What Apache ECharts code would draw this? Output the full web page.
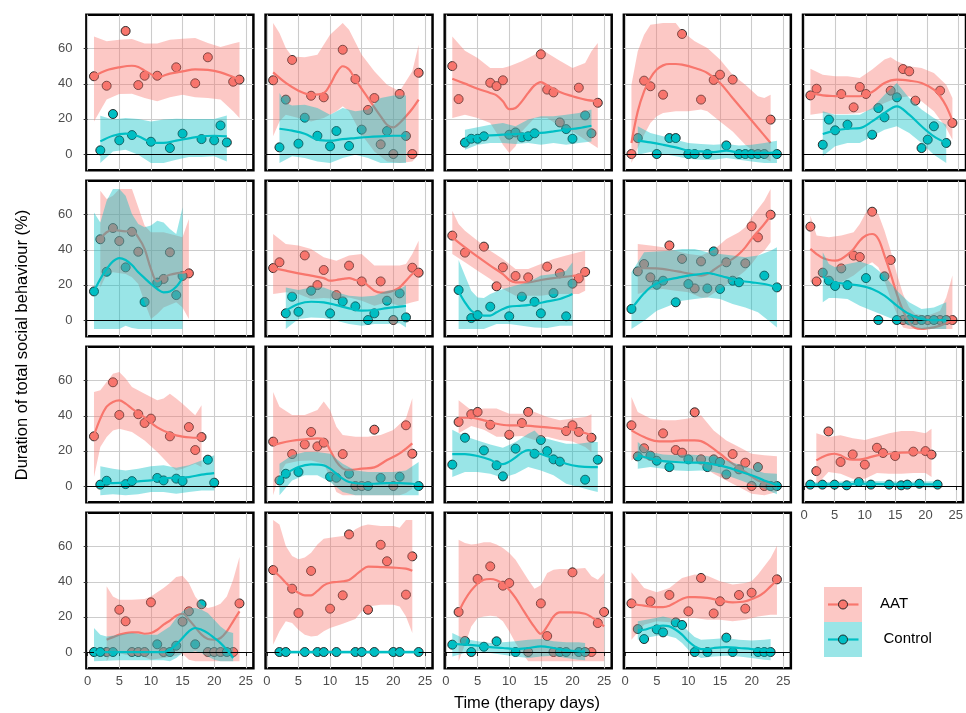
<!DOCTYPE html>
<html>
<head>
<meta charset="utf-8">
<script src="https://cdn.jsdelivr.net/npm/echarts@6/dist/echarts.min.js"></script>
<style>
  html, body { margin: 0; padding: 0; background: #fff; }
  #chart { width: 966px; height: 713px; }
</style>
</head>
<body>
<div id="chart"></div>
<script>
// tick labels shared by every facet
var xTicks = [0, 5, 10, 15, 20, 25];
var yTicks = [0, 20, 40, 60];
var groups = ['AAT', 'Control'];

// one entry per facet (row by row), each a list of [day, %]
var aatPoints = [
  [[1,44.3],[3,38.9],[6,70.1],[8,39.3],[9,44.6],[11,44.6],[14,49.4],[17,40.3],[19,55.1],[23,41.2],[24,42.4]],
  [[1,42],[4,53.6],[7,33.2],[9,32.3],[12,59.4],[14,42.7],[16,25.1],[17,31.9],[18,5.5],[20,0],[21,34.2],[23,0],[24,46.3]],
  [[1,50.1],[2,31.3],[7,40.6],[8,38.7],[9,42],[15,56.8],[16,36.7],[17,35.1],[18,18],[21,37.8],[24,29.2]],
  [[1,0],[3,41.8],[4,38.6],[6,33.8],[9,68.4],[12,31],[14,42.2],[15,45.2],[17,42.4],[23,19.6]],
  [[1,33.4],[2,37.2],[6,34.2],[8,26.6],[9,38.2],[10,34.2],[14,36.1],[16,48.4],[17,47.1],[18,30.4],[22,36.1],[24,17.7]],
  [[2,46],[4,52.4],[5,45],[7,50.3],[8,38.9],[12,23.4],[13,38.6],[16,26.6]],
  [[1,29.6],[2,32.9],[6,36.8],[8,19.9],[9,28.5],[11,14.2],[13,31],[15,22],[18,22],[20,0],[23,29.8],[24,27]],
  [[1,48.1],[3,38.4],[6,41.8],[8,19.2],[9,30],[11,25.1],[13,24.3],[16,30.4],[18,26.6],[21,23.7],[22,27.4]],
  [[2,27.7],[3,31.9],[4,24.3],[7,42.5],[9,34.8],[11,18],[12,33.4],[16,32.9],[19,32.3],[20,53.4],[21,47.1],[23,60]],
  [[1,53.2],[2,22],[6,29.4],[8,36.7],[9,35.9],[11,61.7],[14,34.2],[16,0],[18,0],[20,0],[22,0],[24,0]],
  [[1,28.3],[4,59.1],[5,40.5],[8,40.9],[9,35.9],[10,38.4],[13,28.3],[16,33.6],[17,20.5],[18,27.9]],
  [[1,25.3],[4,18.2],[6,23.7],[7,30.8],[8,22.6],[9,24.7],[12,18.2],[14,0],[15,0],[17,32.1],[20,0],[22,34.6],[23,18.4]],
  [[2,36.5],[4,40.9],[5,42.2],[7,34.9],[10,29.2],[12,35.9],[13,42.2],[19,31.3],[20,34.6],[21,30.8],[23,27.5]],
  [[1,34.6],[3,21.5],[6,30],[8,20.5],[9,19],[11,42],[12,15.2],[17,18.2],[18,9.5],[19,13.3],[20,0],[22,0]],
  [[2,8.5],[4,31.1],[6,13.7],[8,18],[10,12.2],[12,21.8],[13,18.8],[15,17.1],[18,19.6],[20,19.9],[21,17.9]],
  [[3,0],[5,24.1],[6,17.5],[7,0],[8,0],[9,0],[10,28.3],[12,0],[15,17.3],[16,23.2],[19,0],[20,0],[21,0],[23,0],[24,27.7]],
  [[1,46.7],[4,36.1],[5,22.2],[7,46.2],[10,24.7],[12,32.3],[13,67],[16,24.1],[18,61.1],[19,51.7],[22,32.7],[23,54.5]],
  [[2,22.8],[5,41.6],[7,48.8],[9,37.8],[10,39.3],[13,0],[15,27.7],[16,9.1],[17,0],[20,45.4],[23,0],[24,16.5],[25,22.8]],
  [[1,27.7],[4,28.9],[7,32.5],[10,23.2],[12,42.2],[14,22],[15,28.9],[18,32.5],[19,24.7],[20,33.8],[24,41.4]]
];

var controlPoints = [
  [[2,2.1],[4,22.8],[5,7.8],[7,10.8],[10,7],[13,3.4],[15,11.6],[18,8.5],[20,7.8],[21,16.3],[22,6.6]],
  [[2,3.8],[3,31],[5,5.9],[6,20.7],[8,10.4],[10,4.4],[11,13.1],[13,4.6],[15,13.9],[19,13.1],[22,10.3]],
  [[3,6.5],[4,8.7],[5,8.7],[6,10.1],[10,11],[11,12.3],[12,9.5],[13,10.1],[14,11.8],[19,14.2],[20,8.7],[22,22],[23,11.8]],
  [[2,9.1],[5,0],[7,9.1],[8,9.1],[10,0],[11,0],[13,0],[16,4.9],[18,0],[19,0],[20,0],[21,0],[22,0],[24,0]],
  [[3,5.3],[4,19.6],[5,13.5],[7,16.7],[11,11],[12,26.2],[13,20.9],[15,32.3],[19,3.4],[20,8.2],[21,15.8],[23,6.3]],
  [[1,16.3],[3,27.5],[6,30],[9,10.3],[11,21.3],[14,14.2],[15,25.1]],
  [[3,3.8],[4,13.3],[5,4.7],[7,16.7],[10,3.8],[12,10.6],[14,7.8],[16,0],[17,3.8],[19,11],[21,15.2],[22,1.5]],
  [[2,17.1],[4,1.1],[5,2.8],[7,7.6],[10,2.1],[12,13.3],[14,10.4],[15,3.8],[17,15.4],[19,2.1],[20,20.7]],
  [[1,6.3],[5,20.1],[6,22.4],[8,10.1],[10,20.5],[13,18],[14,39.1],[15,17.7],[17,22.4],[18,21.5],[22,25.3],[24,18.6]],
  [[3,27],[4,22.4],[5,19.4],[7,19.9],[10,23.9],[12,0],[13,24.9],[15,0],[17,0],[19,0],[21,0],[23,0]],
  [[2,0.8],[3,3],[6,1.1],[7,2.8],[11,4.6],[12,3.2],[14,4.2],[15,2.8],[19,15],[20,1.9]],
  [[2,3.2],[3,7],[5,8],[10,5.3],[11,4.7],[13,7],[16,0],[18,4.6],[21,5.3],[24,0]],
  [[1,12.2],[3,27.5],[6,20.3],[8,11.8],[9,5.5],[11,21.3],[14,18.4],[15,26.2],[16,19.9],[17,15.2],[18,13.9],[22,3.6],[24,15]],
  [[2,16.9],[4,17.3],[5,14.4],[7,10.8],[10,15.2],[13,10.8],[14,15.2],[15,13.7],[16,6.6],[21,10.8],[23,0],[24,0]],
  [[1,0.8],[3,0.8],[5,0.8],[7,0.4],[9,2.3],[11,0.8],[14,0.8],[16,0.4],[17,0.8],[19,1.3],[22,0.8]],
  [[1,0],[2,0],[4,0],[11,4.4],[13,0],[14,3.6],[17,4.4],[18,27.2],[22,0]],
  [[2,0],[3,0],[6,0],[8,0],[9,0],[11,0],[14,0],[15,0],[17,0],[20,0],[21,0],[24,0]],
  [[1,4.2],[3,6.3],[4,0],[6,3],[8,6.1],[11,0],[18,0],[19,0],[21,0],[22,0]],
  [[2,13.1],[3,7.4],[5,12.9],[6,11.2],[8,16.9],[9,15.4],[11,0],[13,0],[16,8.2],[17,0],[21,0],[22,0],[23,0]]
];

// smoothed trend
var aatFit = [
  [[1,44.3],[3,47.7],[5,49.4],[7,50.3],[8,49.6],[9,47.5],[10,45.5],[11,43.6],[12,44.6],[13,45.8],[15,47.1],[17,48.2],[19,47.9],[21,46.5],[23,43.9],[24,42.5]],
  [[1,46.5],[3,40.5],[5,36.1],[7,33.8],[9,34.8],[10,39.5],[11,46.2],[12,50],[13,48.1],[14,42.4],[16,31.9],[18,21.5],[19,16.7],[20,15.2],[21,17.7],[22,21.5],[23,25.8],[24,31]],
  [[1,42.9],[3,40.1],[5,37.2],[7,34.8],[8,33.4],[9,30],[10,25.6],[11,26.2],[12,30],[13,34.8],[14,39.1],[15,41],[16,39.1],[18,35.3],[20,32.9],[22,31],[24,30]],
  [[1,6.3],[2,24.3],[3,35.7],[4,43.3],[5,48.1],[6,50.5],[7,51.3],[8,51.3],[9,50.9],[11,49],[13,46.2],[15,40.5],[17,31.9],[19,23.4],[21,14.8],[23,6.3]],
  [[1,34.8],[3,33.4],[5,33],[7,32.9],[9,32.9],[11,35.3],[13,40.5],[15,42.4],[17,41.8],[19,40.5],[21,36.7],[22,32.9],[23,27.2],[24,19]],
  [[2,46.2],[3,50],[4,51.3],[6,50.5],[7,50.9],[8,47.1],[9,40.5],[10,29.1],[11,22],[12,24.3],[13,25.8],[14,26.6],[15,27],[16,27.7]],
  [[1,29.6],[3,28.1],[5,26.6],[7,25.3],[9,23.9],[10,22.4],[11,22.8],[12,23.4],[13,23.9],[14,22.8],[15,22.4],[16,19.6],[17,16.7],[18,15.6],[19,15.8],[20,16.7],[21,18.6],[22,22.4],[23,26.2],[24,28.5]],
  [[1,47.1],[3,41.4],[5,36.1],[7,31],[9,26.2],[10,22.8],[11,21.5],[13,21.5],[15,22.8],[17,23.9],[19,24.7],[21,25.6],[22,26.6]],
  [[2,29.1],[3,29.6],[5,29.4],[7,28.5],[9,27.2],[11,25.8],[12,25.3],[13,26.2],[14,28.5],[15,31],[16,32.9],[17,34.8],[18,37.6],[19,41.4],[20,46.2],[21,50.5],[22,54.7],[23,59.4]],
  [[1,40.5],[2,37.6],[3,35.3],[4,34.2],[5,33.8],[6,34.8],[7,37.2],[8,40.5],[9,45.2],[10,48.1],[11,49],[12,46.2],[13,36.7],[14,26.2],[15,14.8],[16,5.3],[17,-1.3],[18,-4.6],[19,-5.1],[20,-4.7],[21,-4.2],[22,-3.2],[23,-1.9],[24,0]],
  [[1,28.9],[2,38.4],[3,45.2],[4,47.9],[5,48.8],[6,46.9],[7,44.1],[9,39.1],[11,33.4],[13,30],[15,28.1],[17,27.5],[18,27.2]],
  [[1,23.2],[2,24.3],[4,25.8],[6,26.6],[8,27.2],[9,26.6],[10,20.5],[11,13.9],[12,10.1],[13,9.1],[15,9.9],[17,10.6],[19,14.8],[21,18.6],[23,24.3]],
  [[2,38.9],[4,38.9],[6,37.4],[8,35.5],[10,34.6],[12,34.6],[14,34],[16,33.4],[18,32.7],[20,32.1],[22,30.2],[23,28.9]],
  [[1,31.7],[3,27.9],[5,25.6],[7,25.4],[9,26],[11,26],[12,25.6],[13,23.7],[15,18.4],[17,12.7],[19,8],[21,3.2],[23,0.9],[24,0]],
  [[2,14.6],[3,16.5],[4,17.9],[5,18.4],[6,17.5],[7,15.6],[8,15],[9,15],[10,15.6],[12,17.5],[14,18.4],[16,19],[18,19.2],[20,19],[21,18.8]],
  [[3,7],[4,8.5],[5,9.9],[6,10.8],[7,11.2],[8,11.2],[9,10.4],[10,10.8],[11,12.7],[12,15.6],[13,17.9],[14,20.7],[15,21.8],[16,18.4],[17,14.2],[18,9.9],[19,7.4],[20,7],[21,8],[22,11.8],[23,17.5],[24,23.2]],
  [[1,46.2],[2,43.3],[3,39.5],[4,36.1],[5,33.8],[6,32.3],[7,32.3],[8,34.8],[9,38],[10,39.5],[11,39.9],[12,40.3],[13,41.1],[14,43.7],[15,46.7],[16,48.6],[18,48.4],[20,48.1],[22,47.5],[23,46.3]],
  [[2,22.8],[3,29.8],[4,35.1],[5,38.9],[6,41.2],[7,41.6],[8,40.9],[9,38.9],[10,35.5],[11,30.8],[12,25.1],[13,19.4],[14,14.2],[15,10.4],[16,14.6],[17,20.3],[18,22.6],[20,22.6],[22,21.8],[23,19.9],[24,17.5],[25,14.6]],
  [[1,27.5],[3,26.4],[5,25.6],[6,25.6],[7,26.4],[8,28.3],[9,30.2],[10,31.3],[11,31.3],[13,30.8],[15,29.4],[17,28.3],[19,28.9],[21,31.7],[22,34],[23,37.4],[24,40.9]]
];

var controlFit = [
  [[2,7.2],[4,10.4],[6,11.6],[8,10.1],[10,6.8],[12,6.3],[14,7.6],[16,8.9],[18,10.1],[20,10.4],[22,10.1]],
  [[2,14.4],[4,13.3],[6,11.6],[8,8.2],[10,7.6],[12,8.5],[14,9.1],[16,9.7],[18,10.1],[20,10.4],[22,10.4]],
  [[3,9.1],[5,10.1],[7,10.6],[9,11],[11,11.4],[13,11.6],[15,12],[17,12.9],[19,13.9],[21,14.8],[23,16.1]],
  [[2,7.6],[4,6.6],[6,5.3],[8,3.8],[10,1.9],[12,1.5],[14,1.1],[16,1.9],[18,0.8],[20,0.6],[22,0.6],[24,0.9]],
  [[3,11.4],[5,13.3],[7,14.4],[9,14.8],[11,18.6],[13,23.4],[15,27.2],[17,22.4],[19,15.8],[21,10.1],[23,6.3]],
  [[1,16.3],[2,23.4],[3,29.1],[4,33.4],[5,35.3],[6,34.2],[7,31.3],[8,27.2],[9,23.9],[10,20.5],[11,17.7],[12,15.8],[13,16.3],[14,19],[15,23.9]],
  [[3,5.3],[5,9.1],[7,10.4],[9,10.1],[11,8.5],[13,6.6],[15,5.3],[17,5.7],[19,6.8],[21,7.6],[22,8]],
  [[2,16.3],[3,10.1],[4,5.3],[5,3.4],[6,2.5],[7,2.5],[8,4.4],[9,6.3],[10,7.6],[12,8.2],[14,9.1],[16,10.6],[18,12],[20,14.8]],
  [[1,6.3],[2,11],[3,15.2],[4,18.6],[6,22.4],[8,23.9],[10,25.3],[12,26.2],[13,26.8],[14,26.2],[16,24.3],[18,22.4],[20,21.5],[22,20.5],[24,18.6]],
  [[3,24.7],[4,22.8],[5,21.5],[7,20.5],[9,19.6],[11,17.7],[13,13.9],[15,8.2],[17,3.4],[19,0.6],[21,0],[23,0]],
  [[2,1.7],[4,1.7],[6,1.9],[8,2.7],[10,3.2],[12,4.2],[14,4.7],[16,5.1],[18,6.5],[20,7.4]],
  [[2,4.2],[3,7],[5,10.8],[7,12.3],[9,11.8],[10,9.9],[11,7],[12,4.2],[13,2.3],[15,1.3],[17,1.3],[19,1.7],[21,1.7],[23,1.3],[24,0.9]],
  [[1,18.2],[3,18.2],[5,17.1],[7,15],[8,13.1],[9,12.5],[10,13.9],[11,16.3],[12,19],[13,20.5],[14,19.6],[15,18.2],[17,15.8],[19,12.7],[21,11.2],[23,10.8],[24,10.8]],
  [[2,17.5],[4,15.6],[6,14.2],[8,13.7],[10,13.3],[12,13.3],[14,12.3],[16,10.8],[18,8.5],[20,6.1],[22,3.2],[24,0.4]],
  [[1,0.8],[5,0.9],[9,1.3],[13,1.1],[17,0.9],[22,0.9]],
  [[1,0],[3,0],[5,0],[7,0],[9,0],[11,0],[12,0],[13,1.3],[14,4.2],[15,8],[16,11.8],[17,13.7],[18,12.7],[19,10.8],[20,8],[21,5.1],[22,1.3],[23,-3.4]],
  [[2,0],[8,0],[14,0],[20,0],[24,0]],
  [[1,4.7],[3,4.2],[5,3.6],[7,2.8],[9,2.3],[11,1.7],[13,2.3],[15,3.2],[17,2.3],[19,0.9],[21,0.4],[22,0.2]],
  [[2,12.3],[3,12.7],[4,13.7],[5,14.6],[6,15],[7,14.6],[8,12.7],[9,9.9],[10,6.1],[11,3.2],[12,1.7],[13,1.7],[14,2.3],[16,2.8],[18,2.3],[20,1.7],[22,1.3],[23,0.9]]
];

// confidence band edges
var aatUpper = [
  [[1,67],[3,64.2],[5,65.1],[7,65.5],[9,62.9],[11,62.9],[13,65.1],[15,65.7],[17,66.1],[19,63.2],[21,61],[23,62.9],[24,63.8]],
  [[1,74.6],[2,69],[3,60.4],[4,55.6],[6,55.1],[8,56.6],[10,68],[12,74.6],[13,70.8],[15,56.6],[17,47.1],[19,39.5],[21,35.7],[23,47.1],[24,62.3]],
  [[1,67],[3,58.9],[5,54.7],[7,49],[9,49],[10,50],[12,52.8],[14,56.6],[15,60.4],[16,57.5],[18,53.2],[20,49],[22,51.9],[23,58.5],[24,63.2]],
  [[1,39.5],[2,58.5],[3,68],[4,73.7],[6,74.6],[8,74.6],[9,69.9],[11,64.2],[13,60.4],[15,53.8],[17,45.2],[19,39.5],[21,32.9],[22,31.9],[23,33.8]],
  [[1,48.6],[3,45.2],[5,44.3],[7,44.3],[9,43.3],[11,48.1],[13,53.8],[14,55.1],[15,52.8],[17,50],[19,49],[21,46.2],[23,39.5],[24,31.9]],
  [[2,73.7],[3,69],[4,70.8],[5,74.6],[6,74.6],[7,74.6],[8,64.2],[9,53.8],[10,50],[12,50],[14,48.1],[15,47.1],[16,57.5]],
  [[1,49],[3,43.3],[5,42.4],[7,40.5],[9,35.7],[11,33.8],[13,36.7],[15,37.6],[17,31],[19,31],[21,31],[22,31.9],[23,37.6],[24,45.2]],
  [[1,62.3],[2,54.7],[3,50.9],[5,45.2],[7,39.5],[9,34.8],[11,29.1],[13,29.1],[15,31.9],[17,34.8],[19,36.7],[21,38.6],[22,39.5]],
  [[2,43.3],[4,42.4],[6,41.4],[8,39.5],[10,37.6],[12,36.7],[14,39.9],[16,46.2],[18,50],[19,52.8],[20,58.5],[21,63.2],[22,68],[23,74.6]],
  [[1,59.4],[2,48.1],[4,47.1],[6,48.1],[8,50],[9,54.7],[10,61.3],[11,63.2],[12,60.4],[13,50.9],[14,39.5],[15,26.2],[16,14.8],[17,7.2],[18,3.4],[20,2.5],[22,5.3],[23,12.9],[24,25.3]],
  [[1,53.6],[2,54.5],[3,59.3],[4,64],[5,65],[6,61.2],[7,56.4],[9,52.6],[10,50.7],[11,48.8],[12,49.8],[13,52.6],[14,49.8],[15,46.9],[17,40.3],[18,46]],
  [[1,53.6],[2,45.2],[4,40.5],[6,40.5],[8,43.3],[9,48.1],[10,43.3],[11,33.8],[12,29.1],[14,28.1],[16,28.1],[18,29.1],[20,31.9],[22,38.6],[23,50]],
  [[2,48.8],[4,43.1],[6,44.1],[8,44.1],[10,41.2],[12,41.2],[14,42.2],[16,39.3],[18,37.4],[20,38.4],[22,39.3],[23,40.9]],
  [[1,50.7],[2,42.2],[4,38.4],[6,37.4],[8,37.4],[10,38.4],[12,40.3],[14,31.7],[16,26],[18,22.2],[20,18.4],[22,17.5],[24,17]],
  [[2,30],[4,27.9],[6,28.9],[8,27.2],[10,26.2],[12,28.1],[14,30],[16,31.3],[18,31.3],[20,30],[21,32.7]],
  [[3,37.4],[4,31.7],[5,29.8],[7,29.8],[9,30.2],[10,31.7],[12,36.5],[13,39.3],[14,42.7],[15,43.5],[16,39.3],[17,31.7],[18,27],[19,25.1],[20,26],[21,27.5],[22,31.7],[23,41.2],[24,54.1]],
  [[1,75.2],[2,72.7],[3,60.4],[4,54.7],[5,52.8],[6,53.8],[7,56.6],[8,61.3],[9,64.6],[10,65.1],[12,66.1],[13,67],[14,69.9],[15,71.8],[16,72.7],[18,71.8],[20,71.8],[21,70.8],[22,75.2],[23,75.2]],
  [[2,64],[3,62.1],[4,61.2],[5,61.7],[6,62.5],[7,62.5],[8,61.2],[9,59.3],[10,56.4],[11,52.6],[12,46.9],[13,41.2],[14,36],[15,38],[16,45],[17,46.9],[18,47.3],[20,47.3],[22,47.9],[23,43.1],[24,41.2],[25,45]],
  [[1,45.4],[3,36.5],[5,34],[7,36.5],[9,42.2],[11,44.1],[13,43.5],[15,40.3],[17,38.4],[19,39.3],[20,40.3],[21,44.1],[22,48.8],[23,53.6],[24,60.6]]
];

var aatLower = [
  [[1,18.6],[3,31],[5,34.2],[7,34.4],[9,31.9],[11,30],[13,32.3],[15,33.8],[17,32.3],[19,31.9],[21,31],[23,24.3],[24,20.5]],
  [[1,10.1],[2,18.6],[3,22.4],[5,20.5],[7,18.6],[9,20.5],[11,24.3],[12,27.2],[13,24.3],[15,11],[17,1.5],[19,-4.2],[21,-5.1],[23,-4.2],[24,-0.4]],
  [[1,20.5],[3,22.4],[5,20.5],[7,17.7],[8,12],[9,5.3],[10,0.6],[11,4.4],[12,12.9],[14,20.5],[16,20.5],[18,15.8],[20,12.9],[22,8.2],[24,3.4]],
  [[1,-5.1],[2,3.4],[3,11],[4,17.7],[5,21.5],[6,23.4],[8,24.3],[10,24.3],[12,25.3],[13,24.3],[15,18.6],[17,12.9],[19,5.3],[21,-0.4],[23,-4.2]],
  [[1,22.4],[3,23.4],[5,22.8],[7,22.8],[9,23.4],[11,25.3],[13,29.1],[15,31.9],[17,32.9],[19,30],[21,24.3],[23,14.8],[24,8.2]],
  [[2,18.6],[3,26.2],[4,27.2],[6,26.2],[7,24.3],[8,20.5],[9,10.1],[10,0.6],[11,3.4],[12,7.2],[14,10.1],[15,7.2],[16,0.6]],
  [[1,14.8],[3,15.8],[5,14.8],[7,12],[9,12.5],[11,12],[13,12.9],[15,11],[17,8.2],[18,9.1],[19,10.1],[21,8.2],[23,10.1],[24,11]],
  [[1,37.6],[3,32.9],[5,28.1],[7,23.4],[9,17.7],[11,13.9],[13,13.9],[15,13.9],[17,14.8],[19,14.8],[21,14.8],[22,16.7]],
  [[2,14.8],[4,17.1],[6,17.7],[8,16.7],[10,15.8],[12,12.9],[13,12.9],[15,17.7],[17,22.4],[19,28.1],[20,31.9],[21,36.7],[22,39.5],[23,44.3]],
  [[1,21.5],[2,24.3],[4,22.8],[6,21.5],[8,25.3],[10,31],[11,32.9],[12,30],[13,22.4],[14,12],[15,3.4],[16,-4.2],[17,-5.1],[24,-5.1]],
  [[1,5.1],[2,22.2],[3,27.9],[4,31.7],[5,32.7],[7,30.8],[9,26],[11,19.4],[13,11.8],[14,8.9],[15,9.9],[17,12.7],[18,10.8]],
  [[1,-5.3],[2,7],[3,12.7],[5,14.2],[7,14.6],[9,12.7],[10,5.1],[11,-3.4],[12,-5.3],[21,-5.3],[22,-4],[23,-1.5]],
  [[2,30],[4,34.2],[6,32.1],[8,28.1],[10,28.1],[12,28.5],[14,26.2],[16,28.1],[18,26.2],[20,25.3],[22,22.2],[23,19.4]],
  [[1,14.6],[2,16.9],[4,14.2],[6,13.7],[8,14.2],[10,14.2],[12,11.8],[14,7],[16,3.2],[18,-0.6],[20,-4.4],[22,-5.3],[24,-3.4]],
  [[2,0.4],[4,8],[6,7],[8,4.2],[10,4.2],[12,7.4],[14,7],[16,7],[18,7.4],[20,7.4],[21,5.1]],
  [[3,-5.3],[4,0.4],[5,-0.6],[6,-1.5],[8,-1.5],[10,-4.4],[12,-3.4],[14,-2.1],[15,-1],[16,-4.4],[17,-5.3],[24,-5.3]],
  [[1,4.2],[2,11.8],[3,17.5],[4,16.5],[5,12.7],[6,9.9],[7,8.9],[8,9.3],[9,11.8],[10,13.7],[12,16.1],[14,18.8],[15,23.2],[16,26],[18,27],[20,27],[21,26],[22,20.3],[23,10.8]],
  [[2,-5.3],[3,4.2],[4,14.6],[5,19.4],[6,20.3],[7,20.7],[8,20.3],[9,17.5],[10,11.8],[11,5.1],[12,-0.6],[13,-5.3],[25,-5.3]],
  [[1,7],[3,15.6],[5,17.5],[7,16.9],[9,19.4],[11,19.4],[13,18.4],[15,18.4],[17,17.5],[19,18.4],[21,20.3],[23,21.3],[24,21.3]]
];

var controlUpper = [
  [[2,21.8],[4,19.6],[6,20.5],[8,19.9],[10,18.6],[12,19.6],[14,20.1],[16,19.9],[18,19.9],[20,19.9],[22,22]],
  [[2,34.8],[3,29.1],[4,27.7],[6,28.1],[8,26.2],[10,22.4],[12,26.2],[14,24.3],[16,25.3],[18,31.9],[20,33.4],[22,33.4]],
  [[3,13.9],[5,15.2],[7,16.7],[9,17.7],[11,15.8],[13,19.6],[15,21.5],[17,21.5],[19,22.4],[21,23.4],[23,25.3]],
  [[2,15.8],[4,12],[6,10.1],[8,8.2],[10,6.3],[12,5.7],[14,5.3],[16,5.7],[18,4.9],[20,5.3],[22,6.3],[24,7.6]],
  [[3,24.3],[5,22.4],[7,22.4],[9,22.4],[11,26.2],[13,33.8],[15,40.5],[17,31.9],[19,25.3],[21,20.5],[23,16.7]],
  [[1,61.3],[2,55.6],[3,68],[4,74.6],[5,74.6],[6,70.8],[7,60.4],[8,54.7],[9,52.8],[10,53.8],[11,56.6],[12,55.6],[13,51.9],[14,49],[15,64.2]],
  [[3,18.6],[5,17.1],[7,18.6],[9,18.6],[11,15.8],[13,13.9],[15,13.3],[17,13.9],[19,16.7],[21,17.7],[22,19.6]],
  [[2,34.2],[3,25.3],[4,16.7],[5,12.9],[6,12.5],[7,14.8],[9,17.7],[11,19.6],[13,21.5],[15,25.3],[17,26.2],[19,28.1],[20,32.9]],
  [[1,27.2],[3,38.6],[5,39.1],[7,39.5],[9,40.5],[11,40.5],[13,38.6],[15,37.6],[17,36.7],[19,35.7],[21,36.7],[23,39.5],[24,41.4]],
  [[3,38.6],[4,31.9],[5,30],[7,31.9],[9,33.4],[11,31],[13,25.3],[15,16.7],[17,10.1],[19,6.3],[21,7.2],[23,10.1]],
  [[2,11.2],[4,9.9],[6,8.9],[8,9.9],[10,11.2],[12,11.8],[14,10.4],[16,11.8],[18,14.6],[20,17.5]],
  [[2,12.7],[4,17.5],[6,19.4],[8,19.4],[10,18.4],[12,12.7],[14,8.9],[16,8],[18,8],[20,8],[22,8.9],[24,13.7]],
  [[1,32.1],[3,28.3],[5,26],[7,23.7],[9,21.8],[11,25.1],[13,29.8],[14,31.7],[15,27.9],[17,26],[19,24.1],[21,24.1],[23,25.1],[24,25.1]],
  [[2,25.1],[4,19.4],[6,18],[8,17.5],[10,18],[12,17.5],[14,16.5],[16,14.6],[18,12.3],[20,9.9],[22,7.4],[24,7]],
  [[1,2],[5,2.5],[9,3],[13,2.7],[17,2.5],[22,2.7]],
  [[1,13.7],[2,9.9],[3,8.9],[5,9.9],[7,10.8],[9,9.9],[11,9.9],[13,14.6],[14,19.4],[15,23.2],[16,25.1],[17,25.1],[18,24.1],[19,22.2],[20,18.4],[21,14.6],[22,11.8],[23,10.8]],
  [[2,0.8],[24,0.8]],
  [[1,10.8],[3,7.4],[5,6.1],[7,5.1],[9,5.5],[11,6.1],[13,7],[15,7.4],[17,6.1],[19,5.5],[21,5.5],[22,5.1]],
  [[2,17.5],[4,18.8],[6,20.3],[7,19.4],[8,18.4],[9,15.6],[10,11.8],[11,8.5],[12,7],[14,7.4],[16,8],[18,7],[20,6.6],[22,7],[23,7.4]]
];

var controlLower = [
  [[2,-5.1],[4,1.5],[6,2.5],[8,-0.4],[10,-5.1],[12,-5.1],[14,-3.2],[16,-1.7],[18,-1.7],[20,-1.3],[22,-4.2]],
  [[2,-5.1],[4,-1.3],[6,-2.3],[8,-4.2],[10,-5.1],[12,-2.3],[14,-0.4],[16,-2.3],[18,-5.1],[20,-5.1],[22,-5.1]],
  [[3,2.5],[5,5.3],[7,6.3],[9,6.3],[11,5.7],[13,6.3],[15,5.3],[17,6.3],[19,5.3],[21,6.3],[23,7.2]],
  [[2,-0.4],[4,1.1],[6,0],[8,-1.3],[10,-2.7],[12,-3.2],[14,-3.2],[16,-2.3],[18,-3.2],[20,-4.2],[22,-5.1],[24,-5.1]],
  [[3,-1.3],[5,4.4],[7,6.3],[9,6.3],[11,10.1],[13,13.9],[15,15.8],[17,12],[19,6.3],[21,-0.4],[23,-5.1]],
  [[1,-5.1],[5,-5.1],[6,-3.2],[7,-4.6],[8,-5.1],[15,-5.1]],
  [[3,-5.1],[5,0.6],[7,1.5],[9,1.1],[11,-0.4],[13,-2.3],[15,-3.2],[17,-2.3],[19,-2.3],[21,-1.9],[22,-4.2]],
  [[2,-5.1],[6,-5.1],[8,-2.3],[10,-2.3],[12,-3.2],[14,-4.2],[16,-4.6],[18,-3.2],[20,-3.2]],
  [[1,-5.1],[3,-0.4],[5,5.3],[7,8.2],[9,11],[11,12],[13,12.9],[15,12],[17,9.1],[19,7.2],[21,4.4],[23,-1.3],[24,-4.2]],
  [[3,10.1],[4,12.5],[5,12.5],[7,12],[9,8.2],[11,5.3],[13,2.5],[15,-0.4],[17,-3.2],[19,-5.1],[23,-5.1]],
  [[2,-5.3],[4,-4.7],[6,-5.3],[8,-4.7],[10,-3.4],[12,-3.4],[14,-4.4],[16,-3.4],[18,-2.5],[20,-2.5]],
  [[2,-5.3],[4,3.2],[6,6.1],[8,6.1],[10,2.3],[12,-3.4],[14,-5.3],[24,-5.3]],
  [[1,5.1],[3,8],[5,8],[7,7],[9,4.7],[11,7],[13,10.8],[15,8.9],[17,6.1],[19,1.3],[21,-0.6],[23,-2.5],[24,-3.4]],
  [[2,9.9],[4,10.8],[6,9.9],[8,8.9],[10,8.5],[12,8.9],[14,8],[16,6.1],[18,3.6],[20,0.9],[22,-1.5],[24,-4.7]],
  [[1,-1],[5,-0.6],[9,-0.3],[13,-0.5],[17,-0.6],[22,-1]],
  [[1,-5.3],[5,-4.7],[9,-4.7],[12,-4.7],[13,-5.3],[14,-3.4],[15,-0.6],[16,-0.6],[17,0.4],[18,-0.6],[19,-2.5],[20,-4.4],[21,-5.3],[23,-5.3]],
  [[2,-0.8],[24,-0.8]],
  [[1,-2.5],[3,-0.6],[5,0.4],[7,-0.6],[9,-1.5],[11,-2.5],[13,-3.4],[15,-2.5],[17,-2.1],[19,-3.4],[21,-4.4],[22,-4.7]],
  [[2,7],[4,8.5],[6,9.9],[8,8],[9,5.1],[10,1.3],[11,-1.5],[12,-3.4],[14,-2.5],[16,-2.1],[18,-2.5],[20,-3.4],[22,-4.4],[23,-4.7]]
];

(function () {
  var AAT = '#F8766D', CTL = '#00BFC4';
  var font = '"Liberation Sans", Arial, Helvetica, sans-serif';
  var chart = echarts.init(document.getElementById('chart'), null, { renderer: 'canvas' });

  var grids = [], xAxes = [], yAxes = [], series = [];

  // layer order as in the original: points, AAT ribbon + line, Control ribbon + line
  function scatter(i, pts, color) {
    return {
      type: 'scatter', xAxisIndex: i, yAxisIndex: i, data: pts, silent: true, z: 1,
      symbol: 'circle', symbolSize: 9,
      itemStyle: { color: color, borderColor: '#1a1a1a', borderWidth: 0.9, opacity: 1 }
    };
  }

  function band(i, upper, lower, color, z) {
    var poly = upper.concat(lower.slice().reverse());
    return {
      type: 'custom', xAxisIndex: i, yAxisIndex: i, data: poly, silent: true, z: z,
      renderItem: function (params, api) {
        if (params.dataIndex !== 0) return null;
        return {
          type: 'polygon',
          shape: { points: poly.map(function (p) { return api.coord(p); }) },
          style: { fill: color, opacity: 0.4 }
        };
      }
    };
  }

  function fit(i, pts, color, z, zero) {
    var s = {
      type: 'line', xAxisIndex: i, yAxisIndex: i, data: pts, silent: true, z: z,
      smooth: 0.35, showSymbol: false,
      lineStyle: { color: color, width: 2.2 }
    };
    if (zero) {
      s.markLine = {
        silent: true, symbol: ['none', 'none'], label: { show: false },
        lineStyle: { color: '#000', width: 1.2, type: 'solid' },
        data: [{ yAxis: 0 }]
      };
    }
    return s;
  }

  for (var i = 0; i < aatPoints.length; i++) {
    var r = Math.floor(i / 5), c = i % 5;
    var showX = r === 3 || i === 14;
    var showY = c === 0;
    grids.push({
      left: 86.4 + 179.15 * c, top: 14.65 + 166 * r, width: 167, height: 155.7,
      show: true, borderColor: '#000', borderWidth: 2.5, backgroundColor: 'transparent'
    });
    xAxes.push({
      type: 'value', gridIndex: i, min: -0.2, max: 26.2,
      axisLine: { show: false },
      axisTick: { show: showX, length: 4, customValues: xTicks, lineStyle: { color: '#333' } },
      axisLabel: { show: showX, customValues: xTicks, color: '#4d4d4d', fontSize: 13, fontFamily: font, margin: 7 },
      splitLine: { show: true, lineStyle: { color: '#cccccc', width: 1.1 } }
    });
    yAxes.push({
      type: 'value', gridIndex: i, min: -9.3, max: 79.4,
      axisLine: { show: false },
      axisTick: { show: showY, length: 4, customValues: yTicks, lineStyle: { color: '#333' } },
      axisLabel: { show: showY, customValues: yTicks, color: '#4d4d4d', fontSize: 13, fontFamily: font, margin: 14 },
      splitLine: { show: true, lineStyle: { color: '#cccccc', width: 1.1 } }
    });
    series.push(scatter(i, aatPoints[i], AAT));
    series.push(scatter(i, controlPoints[i], CTL));
    series.push(band(i, aatUpper[i], aatLower[i], AAT, 2));
    series.push(fit(i, aatFit[i], AAT, 3, false));
    series.push(band(i, controlUpper[i], controlLower[i], CTL, 4));
    series.push(fit(i, controlFit[i], CTL, 5, true));
  }

  // legend keys drawn as ribbon box + line + point
  var legendItems = [];
  [AAT, CTL].forEach(function (color, k) {
    var y0 = 587 + 35 * k;
    legendItems.push(
      { type: 'rect', shape: { x: 824, y: y0, width: 38, height: 35 }, style: { fill: color, opacity: 0.4 } },
      { type: 'line', shape: { x1: 828, y1: y0 + 17.5, x2: 858.5, y2: y0 + 17.5 }, style: { stroke: color, lineWidth: 2.2 } },
      { type: 'circle', shape: { cx: 843, cy: y0 + 17.5, r: 4.5 }, style: { fill: color, stroke: '#1a1a1a', lineWidth: 0.9 } },
      { type: 'text', x: k === 0 ? 880 : 883.5, y: y0 + 16.5,
        style: { text: groups[k], fill: '#000', font: '15px ' + font, verticalAlign: 'middle', align: 'left' } }
    );
  });

  chart.setOption({
    animation: false,
    grid: grids,
    xAxis: xAxes,
    yAxis: yAxes,
    series: series,
    graphic: legendItems.concat([
      { type: 'text', x: 22.5, y: 345, rotation: Math.PI / 2,
        style: { text: 'Duration of total social behaviour (%)', fill: '#000', font: '16.5px ' + font, align: 'center', verticalAlign: 'middle' } },
      { type: 'text', x: 527, y: 703,
        style: { text: 'Time (therapy days)', fill: '#000', font: '16.5px ' + font, align: 'center', verticalAlign: 'middle' } }
    ])
  });
  window.addEventListener('resize', function () { chart.resize(); });
})();
</script>
</body>
</html>
